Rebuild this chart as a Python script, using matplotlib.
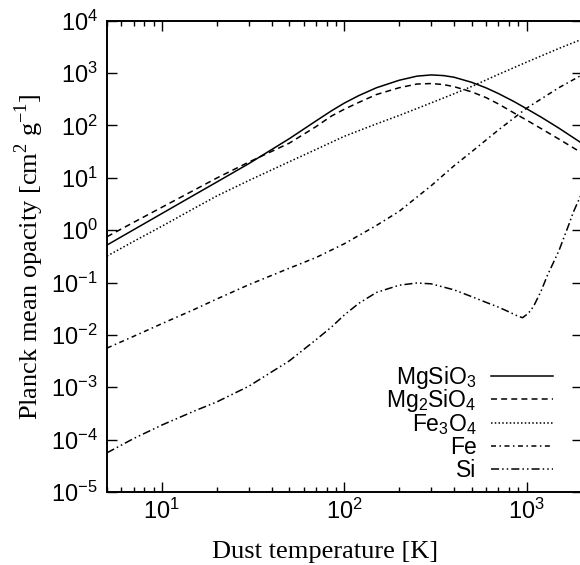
import numpy as np
import matplotlib
matplotlib.use("Agg")
import matplotlib.pyplot as plt
from matplotlib.ticker import LogLocator, NullLocator

# ---------------- data ----------------
T = [5, 7, 10, 15, 20, 30, 50, 70, 85, 100, 120, 150, 200, 250, 300, 350, 400, 500, 600,
     700, 850, 1000, 1200, 1500, 2000]
mgsio3 = [0.52, 1.02, 2.08, 4.68, 8.3, 18.7, 56, 122, 190, 267, 371, 524, 729, 873, 922,
          895, 832, 665, 520, 406, 287, 208, 144, 89, 46]
mg2sio4 = [0.75, 1.41, 2.74, 5.8, 9.9, 20, 46, 95, 151, 204, 275, 389, 525, 617, 631,
           603, 550, 437, 339, 257, 174, 126, 87, 55, 30]

T2 = [5, 7, 10, 15, 20, 30, 50, 70, 100, 150, 200, 300, 400, 500, 700, 1000, 1500, 2000]
fe3o4 = [0.32, 0.61, 1.19, 2.6, 4.5, 8.9, 20.3, 34.8, 62, 107, 155, 270, 403, 556, 944,
         1620, 2950, 4400]
fe = [0.0056, 0.0094, 0.0164, 0.0305, 0.0485, 0.091, 0.188, 0.30, 0.55, 1.23, 2.29, 7.1,
      17, 31.6, 82, 214, 525, 912]

T_si = [5, 7, 10, 15, 20, 30, 50, 70, 85, 100, 120, 150, 200, 250, 300, 400, 500, 600, 700,
        800, 900, 950, 1000, 1050, 1100, 1200, 1300, 1500, 1700, 1800, 2000]
si = [5.6e-5, 1.05e-4, 1.9e-4, 3.5e-4, 5.25e-4, 1.05e-3, 3.2e-3, 8.1e-3, 0.0141, 0.024,
      0.040, 0.0646, 0.089, 0.098, 0.0944, 0.0724, 0.0537, 0.0417, 0.0339, 0.0275, 0.0226,
      0.0213, 0.0245, 0.0288, 0.0372, 0.0692, 0.138, 0.40, 1.26, 2.19, 5.0]

labels = ["MgSiO$_3$", "Mg$_2$SiO$_4$", "Fe$_3$O$_4$", "Fe", "Si"]
x_ticks = [10, 100, 1000]
y_ticks = [1e-5, 1e-4, 1e-3, 1e-2, 1e-1, 1e0, 1e1, 1e2, 1e3, 1e4]

# ---------------- style ----------------
plt.rcParams['font.family'] = ['Liberation Sans', 'DejaVu Sans']
plt.rcParams['mathtext.fontset'] = 'custom'
plt.rcParams['mathtext.rm'] = 'Liberation Sans'
plt.rcParams['mathtext.it'] = 'Liberation Sans:italic'
plt.rcParams['mathtext.bf'] = 'Liberation Sans:bold'
plt.rcParams['axes.unicode_minus'] = False
plt.rcParams['lines.scale_dashes'] = False

styles = [
    '-',
    (0, (4.3, 3.0)),
    (0, (1.1, 1.6)),
    (0, (3.6, 2.5, 1.1, 2.5)),
    (0, (5.8, 2.2, 1.1, 2.2, 1.1, 2.2)),
]
lw = 1.1

fig = plt.figure(figsize=(5.8, 5.65), dpi=100)
ax = fig.add_axes([107 / 580, 1 - 492 / 565, 474.6 / 580, 471.3 / 565])

series = [(T, mgsio3), (T, mg2sio4), (T2, fe3o4), (T2, fe), (T_si, si)]
for (xs, ys), ls in zip(series, styles):
    ax.plot(xs, ys, color='black', linestyle=ls, linewidth=lw)

ax.set_xscale('log')
ax.set_yscale('log')
ax.set_xlim(5, 2000)
ax.set_ylim(1e-5, 1e4)
ax.set_xticks(x_ticks)
ax.xaxis.set_minor_locator(LogLocator(base=10, subs=np.arange(2, 10)))
ax.set_yticks(y_ticks)
ax.yaxis.set_minor_locator(NullLocator())

ax.tick_params(which='both', direction='in', top=True, right=True, width=1.0, labelsize=17)
ax.tick_params(which='major', length=7)
ax.tick_params(which='minor', length=3.6)
ax.tick_params(axis='y', pad=6.5)
ax.tick_params(axis='x', pad=5)
for s in ax.spines.values():
    s.set_linewidth(1.4)

ax.set_xlabel("Dust temperature [K]", family='Liberation Serif', fontsize=19)
ax.set_ylabel(r"Planck mean opacity [cm$^{\mathdefault{2}}$ g$^{\mathdefault{-1}}$]",
              family='Liberation Serif', fontsize=19)
ax.xaxis.set_label_coords(0.459, -0.1407)
ax.xaxis.label.set_va('baseline')
ax.yaxis.set_label_coords(-0.1454, 0.5)
ax.yaxis.label.set_va('baseline')

# gnuplot-style key: right-aligned text, sample line on the right
key_y = [0.2461, 0.1967, 0.1472, 0.0978, 0.0483]
for lab, ls, yk in zip(labels, styles, key_y):
    ax.plot([0.809, 0.940], [yk, yk], transform=ax.transAxes, color='black',
            linestyle=ls, linewidth=lw)
    ax.text(0.779, yk - 0.0174, lab, transform=ax.transAxes, ha='right', va='baseline',
            fontsize=16.5)

fig.savefig("out.png", dpi=100)
